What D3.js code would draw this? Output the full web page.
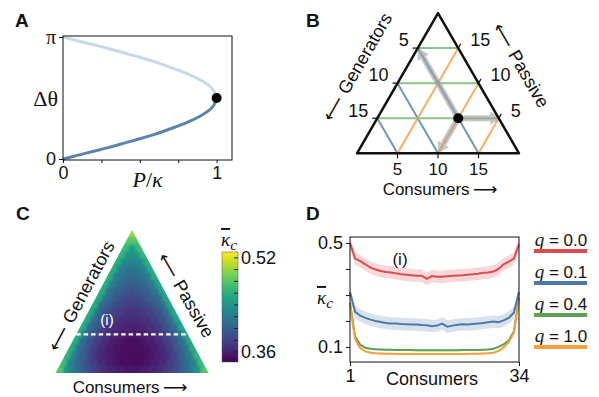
<!DOCTYPE html>
<html>
<head>
<meta charset="utf-8">
<script src="https://cdn.jsdelivr.net/npm/d3@7"></script>
<style>
  body { margin: 0; background: #fff; }
  svg { display: block; }
  text { font-family: "Liberation Sans", Arial, sans-serif; fill: #111; }
  .serif { font-family: "Liberation Serif", "DejaVu Serif", serif; }
  .arrowglyph { font-family: "DejaVu Sans", sans-serif; }
</style>
</head>
<body>
<svg id="fig" width="599" height="397"></svg>
<script>
// ---- panel A : phase difference vs load ----
const pRatio = [0, 0.1, 0.2, 0.3, 0.4, 0.5, 0.6, 0.7, 0.8, 0.9, 0.95, 0.98, 1.0];
const thetaStable = [0, 0.10, 0.20, 0.30, 0.41, 0.52, 0.64, 0.78, 0.93, 1.12, 1.25, 1.37, 1.57];
const thetaUnstable = [3.14, 3.04, 2.94, 2.84, 2.73, 2.62, 2.50, 2.36, 2.21, 2.02, 1.89, 1.77, 1.57];
const aTicks = [0, 0.25, 0.5, 0.75, 1];

// ---- panel B : ternary sketch ----
const ternN = 20;
const ternTicks = [5, 10, 15];
const ternDot = { row: 15, col: 10 };
const ternMoves = [{ row: 5, col: 0 }, { row: 20, col: 10 }, { row: 15, col: 15.3 }];

// ---- panel C : mean critical coupling over the simplex (row 0 = apex) ----
const heatRows = [
  [0.50],
  [0.48, 0.48],
  [0.47, 0.45, 0.47],
  [0.465, 0.44, 0.44, 0.465],
  [0.46, 0.43, 0.425, 0.43, 0.46],
  [0.46, 0.425, 0.415, 0.415, 0.425, 0.46],
  [0.46, 0.42, 0.41, 0.405, 0.41, 0.42, 0.46],
  [0.46, 0.42, 0.405, 0.40, 0.40, 0.405, 0.42, 0.455],
  [0.46, 0.415, 0.40, 0.395, 0.39, 0.395, 0.40, 0.415, 0.455],
  [0.46, 0.415, 0.40, 0.39, 0.385, 0.385, 0.39, 0.40, 0.41, 0.455],
  [0.46, 0.41, 0.395, 0.385, 0.38, 0.378, 0.38, 0.385, 0.395, 0.41, 0.455],
  [0.46, 0.41, 0.39, 0.38, 0.375, 0.37, 0.37, 0.375, 0.38, 0.39, 0.41, 0.455],
  [0.46, 0.41, 0.39, 0.38, 0.37, 0.367, 0.365, 0.367, 0.37, 0.38, 0.39, 0.41, 0.455],
  [0.46, 0.41, 0.39, 0.375, 0.368, 0.362, 0.36, 0.36, 0.362, 0.368, 0.375, 0.39, 0.41, 0.455],
  [0.46, 0.41, 0.39, 0.375, 0.365, 0.36, 0.356, 0.354, 0.356, 0.36, 0.365, 0.375, 0.39, 0.41, 0.455],
  [0.46, 0.41, 0.39, 0.375, 0.365, 0.358, 0.353, 0.35, 0.35, 0.353, 0.358, 0.365, 0.375, 0.39, 0.41, 0.455],
  [0.46, 0.415, 0.395, 0.378, 0.366, 0.358, 0.352, 0.349, 0.348, 0.349, 0.352, 0.358, 0.366, 0.378, 0.395, 0.415, 0.46],
  [0.465, 0.42, 0.40, 0.382, 0.368, 0.36, 0.353, 0.349, 0.347, 0.347, 0.349, 0.353, 0.36, 0.368, 0.382, 0.40, 0.42, 0.465],
  [0.47, 0.425, 0.405, 0.388, 0.375, 0.365, 0.357, 0.352, 0.349, 0.348, 0.349, 0.352, 0.357, 0.365, 0.375, 0.388, 0.405, 0.425, 0.47],
  [0.48, 0.44, 0.415, 0.40, 0.385, 0.375, 0.366, 0.36, 0.356, 0.354, 0.354, 0.356, 0.36, 0.366, 0.375, 0.385, 0.40, 0.415, 0.44, 0.48]
];
const sliceRow = 14.6;
const cbarTicks = [0.36, 0.38, 0.40, 0.42, 0.44, 0.46, 0.48, 0.50, 0.52];
const cbarLabels = [0.52, 0.36];

// ---- panel D : slice (i) for several q ----
const consumers = d3.range(1, 35);
const qLabels = ["0.0", "0.1", "0.4", "1.0"];
const qColors = ["#dc4b50", "#4e79a7", "#5ea155", "#f7a03c"];
const kappaQ00 = [0.50, 0.44, 0.43, 0.418, 0.405, 0.398, 0.392, 0.388, 0.386, 0.383, 0.38, 0.378, 0.376, 0.374, 0.374, 0.362,
  0.373, 0.37, 0.37, 0.372, 0.374, 0.375, 0.376, 0.378, 0.38, 0.382, 0.385, 0.386, 0.39, 0.40, 0.418, 0.428, 0.44, 0.495];
const kappaQ01 = [0.31, 0.235, 0.22, 0.212, 0.205, 0.2, 0.196, 0.192, 0.19, 0.19, 0.188, 0.187, 0.186, 0.186, 0.184, 0.183,
  0.18, 0.182, 0.19, 0.178, 0.182, 0.185, 0.187, 0.186, 0.188, 0.19, 0.192, 0.195, 0.198, 0.195, 0.202, 0.212, 0.232, 0.31];
const kappaQ04 = [0.27, 0.14, 0.108, 0.097, 0.093, 0.091, 0.09, 0.089, 0.089, 0.088, 0.088, 0.088, 0.088, 0.087, 0.087, 0.087,
  0.087, 0.087, 0.087, 0.087, 0.087, 0.087, 0.088, 0.088, 0.088, 0.088, 0.089, 0.09, 0.093, 0.1, 0.11, 0.125, 0.16, 0.29];
const kappaQ10 = [0.26, 0.13, 0.095, 0.083, 0.078, 0.076, 0.075, 0.074, 0.074, 0.073, 0.073, 0.073, 0.073, 0.073, 0.073, 0.073,
  0.073, 0.073, 0.073, 0.073, 0.073, 0.073, 0.073, 0.073, 0.074, 0.074, 0.075, 0.076, 0.078, 0.085, 0.098, 0.118, 0.155, 0.28];
const kappaSpread = [0.024, 0.024, 0.004, 0.004];
const dTicks = [0.1, 0.2, 0.3, 0.4, 0.5];

const svg = d3.select("#fig");
const SQ3 = Math.sqrt(3) / 2;

function panelLabel(t, x, y) {
  svg.append("text").attr("x", x).attr("y", y).attr("font-size", 19).attr("font-weight", "bold").text(t);
}
function styleAxis(g, size) {
  g.attr("font-family", null).attr("font-size", size);
  g.selectAll(".tick line").attr("stroke", "#111");
  g.selectAll(".tick text").attr("fill", "#111");
}
function kappaBar(sel, x, y, size) {
  const t = sel.append("text").attr("class", "serif").attr("x", x).attr("y", y).attr("font-size", size).attr("font-style", "italic");
  t.append("tspan").style("text-decoration", "overline").text("κ");
  t.append("tspan").attr("dy", size * 0.22).attr("font-size", size * 0.8).text("c");
  return t;
}

// ================= A =================
panelLabel("A", 15, 27);
const gA = svg.append("g");
const xA = d3.scaleLinear().domain([0, 1.1]).range([63, 232]);
const yA = d3.scaleLinear().domain([0, Math.PI]).range([159, 37]);
const lineA = d3.line().x((d, i) => xA(pRatio[i])).y(d => yA(d)).curve(d3.curveCatmullRom);
gA.append("path").attr("d", lineA(thetaUnstable)).attr("fill", "none").attr("stroke", "#c9d8e6").attr("stroke-width", 3);
gA.append("path").attr("d", lineA(thetaStable)).attr("fill", "none").attr("stroke", "#5d83a8").attr("stroke-width", 3);
gA.append("rect").attr("x", xA(0)).attr("y", yA(Math.PI) - 1)
  .attr("width", xA(1.1) - xA(0)).attr("height", yA(0) - yA(Math.PI) + 2)
  .attr("fill", "none").attr("stroke", "#111").attr("stroke-width", 1);
gA.append("circle").attr("cx", xA(pRatio[pRatio.length - 1])).attr("cy", yA(thetaStable[thetaStable.length - 1]))
  .attr("r", 5).attr("fill", "#000");
const axA = gA.append("g").attr("transform", `translate(0,${yA(0) + 1})`)
  .call(d3.axisBottom(xA).tickValues(aTicks).tickSize(3).tickFormat(d => (d === 0 || d === 1) ? d : ""));
axA.select(".domain").remove();
styleAxis(axA, 18);
const ayA = gA.append("g").attr("transform", `translate(${xA(0)},0)`)
  .call(d3.axisLeft(yA).tickValues([0, Math.PI]).tickSize(4).tickFormat(d => d === 0 ? "0" : "π"));
ayA.select(".domain").remove();
styleAxis(ayA, 18);
ayA.selectAll(".tick text").filter(d => d !== 0).attr("class", "serif").attr("font-size", 20);
gA.append("text").attr("class", "serif").attr("x", 58).attr("y", yA(Math.PI / 2)).attr("dy", "0.35em")
  .attr("text-anchor", "end").attr("font-size", 22).text("Δθ");
const pk = gA.append("text").attr("class", "serif").attr("x", xA(0.55)).attr("y", 187)
  .attr("text-anchor", "middle").attr("font-size", 22);
pk.append("tspan").attr("font-style", "italic").text("P");
pk.append("tspan").text("/");
pk.append("tspan").attr("font-style", "italic").text("κ");

// ================= B =================
panelLabel("B", 306, 27);
const gB = svg.append("g");
const apexB = [438, 13], sideB = 162;
const uB = d3.scaleLinear().domain([0, ternN]).range([0, sideB]);
const posB = (row, col) => [apexB[0] - uB(row) / 2 + uB(col), apexB[1] + uB(row) * SQ3];
const seg = (a, b, color, w) => gB.append("line").attr("x1", a[0]).attr("y1", a[1]).attr("x2", b[0]).attr("y2", b[1])
  .attr("stroke", color).attr("stroke-width", w);
ternTicks.forEach(k => {
  seg(posB(k, 0), posB(k, k), "#8fc18b", 2);
  seg(posB(ternN, k), posB(ternN - k, 0), "#7196b8", 2);
  seg(posB(ternN, k), posB(k, k), "#fbae62", 2);
});
// moves from the chosen point
const dotB = posB(ternDot.row, ternDot.col);
ternMoves.forEach(m => {
  const tip = posB(m.row, m.col);
  const dx = tip[0] - dotB[0], dy = tip[1] - dotB[1], L = Math.hypot(dx, dy);
  const ux = dx / L, uy = dy / L, hl = 11, hw = 6.5;
  const base = [tip[0] - ux * hl, tip[1] - uy * hl];
  const a = gB.append("g").attr("opacity", 0.6);
  a.append("line").attr("x1", dotB[0]).attr("y1", dotB[1]).attr("x2", base[0]).attr("y2", base[1])
    .attr("stroke", "#a0a0a0").attr("stroke-width", 6);
  a.append("path").attr("fill", "#a0a0a0")
    .attr("d", `M${tip[0]},${tip[1]}L${base[0] - uy * hw},${base[1] + ux * hw}L${base[0] + uy * hw},${base[1] - ux * hw}Z`);
});
gB.append("path").attr("fill", "none").attr("stroke", "#111").attr("stroke-width", 2.5).attr("stroke-linejoin", "round")
  .attr("d", "M" + [posB(0, 0), posB(ternN, 0), posB(ternN, ternN)].join("L") + "Z");
gB.append("circle").attr("cx", dotB[0]).attr("cy", dotB[1]).attr("r", 5).attr("fill", "#000");
ternTicks.forEach(k => {
  const l = posB(k, 0), r = posB(k, k), b = posB(ternN, k);
  seg(l, [l[0] - 5, l[1]], "#111", 1.2);
  seg(r, [r[0] + 2.5, r[1] - 4.3], "#111", 1.2);
  seg(b, [b[0], b[1] + 5], "#111", 1.2);
  gB.append("text").attr("x", l[0] - 9).attr("y", l[1] - 8).attr("dy", "0.35em").attr("text-anchor", "end")
    .attr("font-size", 18).text(k);
  gB.append("text").attr("x", r[0] + 12).attr("y", r[1] - 8).attr("dy", "0.35em").attr("text-anchor", "start")
    .attr("font-size", 18).text(ternN - k);
  gB.append("text").attr("x", b[0]).attr("y", b[1] + 16).attr("dy", "0.35em").attr("text-anchor", "middle")
    .attr("font-size", 17).text(k);
});

function ternTitles(g, left, right, bottom, angL, angR) {
  const tl = g.append("text").attr("transform", `translate(${left[0]},${left[1]}) rotate(${angL})`)
    .attr("text-anchor", "middle").attr("dy", "0.35em").attr("font-size", 18);
  tl.append("tspan").attr("class", "arrowglyph").text("⟵ ");
  tl.append("tspan").text("Generators");
  const tr = g.append("text").attr("transform", `translate(${right[0]},${right[1]}) rotate(${angR})`)
    .attr("text-anchor", "middle").attr("dy", "0.35em").attr("font-size", 18);
  tr.append("tspan").attr("class", "arrowglyph").text("⟵ ");
  tr.append("tspan").text("Passive");
  const tb = g.append("text").attr("x", bottom[0]).attr("y", bottom[1]).attr("dy", "0.35em")
    .attr("text-anchor", "middle").attr("font-size", 17);
  tb.append("tspan").text("Consumers");
  tb.append("tspan").attr("class", "arrowglyph").text("\u2009⟶");
}
ternTitles(gB, [357, 67], [521, 65], [440, 189], -60, 60);

// ================= C =================
panelLabel("C", 16, 220);
const gC = svg.append("g");
const apexC = [132, 230], baseC = 373, halfC = 76.5;
const R = heatRows.length;
const rowY = d3.scaleLinear().domain([0, R]).range([apexC[1], baseC]);
const cw = 2 * halfC / R;
const color = d3.scaleSequential(d3.interpolateViridis).domain([0.343, 0.530]);
const defs = svg.append("defs");
defs.append("clipPath").attr("id", "triC").append("path")
  .attr("d", `M${apexC[0]},${apexC[1]}L${apexC[0] - halfC},${baseC}L${apexC[0] + halfC},${baseC}Z`);
defs.append("filter").attr("id", "soft").attr("x", "-10%").attr("y", "-10%").attr("width", "120%").attr("height", "120%")
  .append("feGaussianBlur").attr("stdDeviation", 1.6);
const heat = gC.append("g").attr("clip-path", "url(#triC)").append("g").attr("filter", "url(#soft)");
heatRows.forEach((row, r) => {
  row.forEach((v, j) => {
    let x0 = apexC[0] - (r + 1) * cw / 2 + j * cw, w = cw + 0.6;
    if (j === 0) { x0 -= cw; w += cw; }
    if (j === row.length - 1) w += cw;
    const y0 = rowY(r) - (r === 0 ? 3 : 0);
    const h = rowY(r + 1) - rowY(r) + 0.6 + (r === R - 1 ? 4 : 0) + (r === 0 ? 3 : 0);
    heat.append("rect").attr("x", x0).attr("y", y0).attr("width", w).attr("height", h).attr("fill", color(v));
  });
});
// slice (i)
const ySlice = rowY(sliceRow);
const halfSlice = halfC * (ySlice - apexC[1]) / (baseC - apexC[1]);
gC.append("line").attr("x1", apexC[0] - halfSlice).attr("x2", apexC[0] + halfSlice)
  .attr("y1", ySlice).attr("y2", ySlice).attr("stroke", "#fff").attr("stroke-width", 2.2).attr("stroke-dasharray", "4.5,3");
gC.append("text").attr("x", 107).attr("y", ySlice - 9).attr("text-anchor", "middle").attr("font-size", 15)
  .style("fill", "#fff").text("(i)");
ternTitles(gC, [81, 296], [186, 295], [130, 387], -62, 60);
// colorbar
const cbY = d3.scaleLinear().domain([0.343, 0.530]).range([362, 252]);
const grad = defs.append("linearGradient").attr("id", "vir").attr("x1", 0).attr("y1", 1).attr("x2", 0).attr("y2", 0);
d3.range(0, 1.0001, 0.1).forEach(t => grad.append("stop").attr("offset", t).attr("stop-color", d3.interpolateViridis(t)));
gC.append("rect").attr("x", 222).attr("y", cbY(0.530)).attr("width", 16).attr("height", cbY(0.343) - cbY(0.530))
  .attr("fill", "url(#vir)").attr("stroke", "#555").attr("stroke-width", 0.5);
cbarTicks.forEach(v => gC.append("line").attr("x1", 238).attr("x2", 234).attr("y1", cbY(v)).attr("y2", cbY(v))
  .attr("stroke", "#222").attr("stroke-width", 1));
cbarLabels.forEach(v => gC.append("text").attr("x", 241).attr("y", cbY(v)).attr("dy", "0.35em").attr("font-size", 18)
  .text(v.toFixed(2)));
kappaBar(gC, 221, 246, 19);

// ================= D =================
panelLabel("D", 306, 220);
const gD = svg.append("g");
const xD = d3.scaleLinear().domain([1, 34]).range([350, 519]);
const yD = d3.scaleLinear().domain([0.042, 0.523]).range([362, 237]);
const seriesD = [kappaQ00, kappaQ01, kappaQ04, kappaQ10];
const areaD = (s) => d3.area().x((d, i) => xD(consumers[i])).y0(d => yD(d - s)).y1(d => yD(d + s));
const lineD = d3.line().x((d, i) => xD(consumers[i])).y(d => yD(d));
seriesD.forEach((vals, k) => {
  gD.append("path").attr("d", areaD(kappaSpread[k])(vals)).attr("fill", qColors[k]).attr("opacity", 0.22);
});
seriesD.forEach((vals, k) => {
  gD.append("path").attr("d", lineD(vals)).attr("fill", "none").attr("stroke", qColors[k]).attr("stroke-width", 2);
});
gD.append("rect").attr("x", xD(1)).attr("y", yD(0.523)).attr("width", xD(34) - xD(1)).attr("height", yD(0.042) - yD(0.523))
  .attr("fill", "none").attr("stroke", "#111").attr("stroke-width", 1);
const axD = gD.append("g").attr("transform", `translate(0,${yD(0.042)})`)
  .call(d3.axisBottom(xD).tickValues([1, 34]).tickSize(4).tickFormat(d3.format("d")));
axD.select(".domain").remove();
styleAxis(axD, 18);
const ayD = gD.append("g").attr("transform", `translate(${xD(1)},0)`)
  .call(d3.axisLeft(yD).tickValues(dTicks).tickSize(4).tickFormat(d => (d === 0.1 || d === 0.5) ? d : ""));
ayD.select(".domain").remove();
styleAxis(ayD, 18);
kappaBar(gD, 317, 304, 19);
gD.append("text").attr("x", 432).attr("y", 379).attr("dy", "0.35em").attr("text-anchor", "middle").attr("font-size", 18)
  .text("Consumers");
gD.append("text").attr("x", 400).attr("y", 259).attr("dy", "0.35em").attr("text-anchor", "middle").attr("font-size", 17)
  .text("(i)");
// legend
qLabels.forEach((q, k) => {
  const yy = 240 + k * 32;
  const t = gD.append("text").attr("x", 561).attr("y", yy).attr("dy", "0.35em").attr("text-anchor", "middle").attr("font-size", 17);
  t.append("tspan").attr("class", "serif").attr("font-style", "italic").attr("font-size", 19).text("q");
  t.append("tspan").text(" = " + q);
  gD.append("line").attr("x1", 534).attr("x2", 587).attr("y1", yy + 11).attr("y2", yy + 11)
    .attr("stroke", qColors[k]).attr("stroke-width", 4);
});
</script>
</body>
</html>
